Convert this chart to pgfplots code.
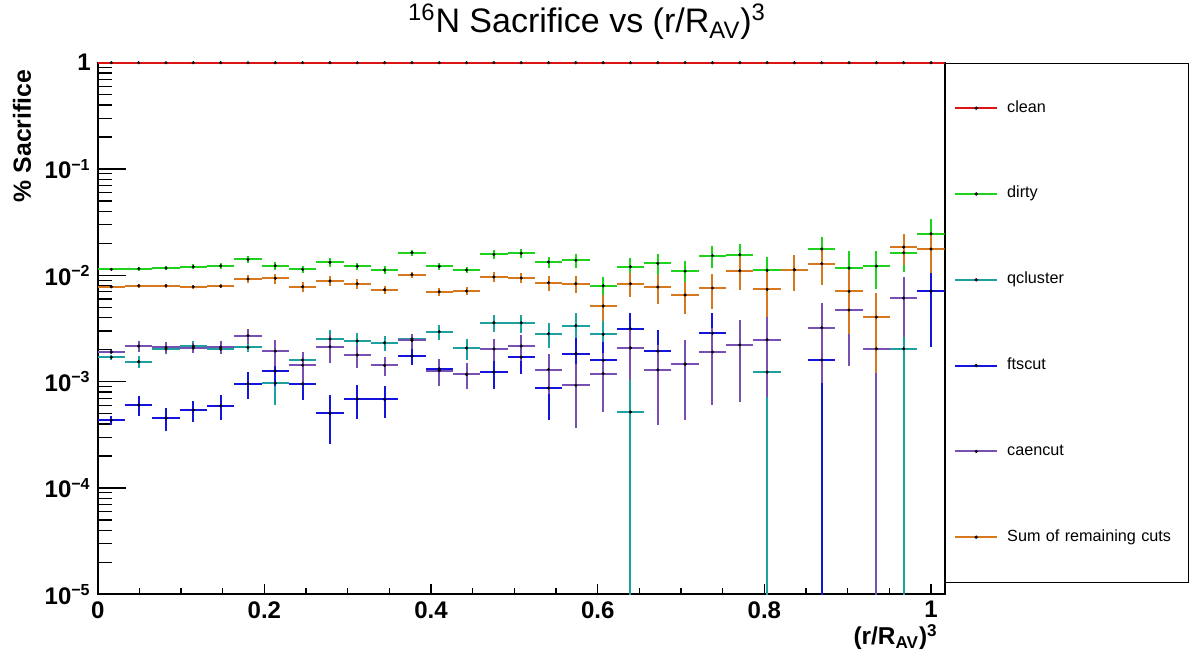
\documentclass[border=0pt]{standalone}
\usepackage{fontspec}
\setmainfont{Liberation Sans}
\usepackage{pgfplots}
\usepackage{pgfplotstable}
\pgfplotsset{compat=1.18}

\definecolor{cClean}{RGB}{220,20,20}
\definecolor{cDirty}{RGB}{30,210,30}
\definecolor{cQclu}{RGB}{30,160,160}
\definecolor{cFts}{RGB}{20,20,220}
\definecolor{cCaen}{RGB}{120,80,180}
\definecolor{cSum}{RGB}{215,120,30}

% bins of width 1/30.5, errors are relative (plus / minus)
\pgfplotstableread{
x y ep em
0.016393 1 0.001 0.001
0.049180 1 0.001 0.001
0.081967 1 0.001 0.001
0.114754 1 0.001 0.001
0.147541 1 0.001 0.001
0.180328 1 0.001 0.001
0.213115 1 0.001 0.001
0.245902 1 0.001 0.001
0.278689 1 0.001 0.001
0.311475 1 0.001 0.001
0.344262 1 0.001 0.001
0.377049 1 0.001 0.001
0.409836 1 0.001 0.001
0.442623 1 0.001 0.001
0.475410 1 0.001 0.001
0.508197 1 0.001 0.001
0.540984 1 0.001 0.001
0.573770 1 0.001 0.001
0.606557 1 0.001 0.001
0.639344 1 0.001 0.001
0.672131 1 0.001 0.001
0.704918 1 0.001 0.001
0.737705 1 0.001 0.001
0.770492 1 0.001 0.001
0.803279 1 0.001 0.001
0.836066 1 0.001 0.001
0.868852 1 0.001 0.001
0.901639 1 0.001 0.001
0.934426 1 0.001 0.001
0.967213 1 0.001 0.001
1.000000 1 0.001 0.001
}\clean

\pgfplotstableread{
x y ep em
0.016393 0.01138 0.02 0.02
0.049180 0.01153 0.04 0.04
0.081967 0.01170 0.05 0.05
0.114754 0.01205 0.05 0.05
0.147541 0.01230 0.06 0.06
0.180328 0.01410 0.07 0.07
0.213115 0.01230 0.08 0.08
0.245902 0.01138 0.07 0.07
0.278689 0.01325 0.10 0.10
0.311475 0.01220 0.08 0.08
0.344262 0.01122 0.09 0.09
0.377049 0.01632 0.06 0.06
0.409836 0.01214 0.08 0.08
0.442623 0.01122 0.07 0.07
0.475410 0.01575 0.10 0.10
0.508197 0.01610 0.09 0.09
0.540984 0.01334 0.12 0.12
0.573770 0.01384 0.15 0.15
0.606557 0.00798 0.20 0.20
0.639344 0.01205 0.20 0.20
0.672131 0.01297 0.22 0.22
0.704918 0.01097 0.24 0.24
0.737705 0.01528 0.23 0.23
0.770492 0.01563 0.26 0.26
0.803279 0.01114 0.33 0.33
0.836066 0.01130 0.37 0.37
0.868852 0.01767 0.29 0.29
0.901639 0.01172 0.45 0.45
0.934426 0.01222 0.39 0.39
0.967213 0.01632 0.34 0.34
1.000000 0.02460 0.39 0.39
}\dirty

\pgfplotstableread{
x y ep em
0.016393 0.00169 0.045 0.045
0.049180 0.00154 0.13 0.13
0.081967 0.00203 0.11 0.11
0.114754 0.00216 0.11 0.11
0.147541 0.00202 0.09 0.09
0.180328 0.00210 0.10 0.10
0.213115 0.00097 0.38 0.38
0.245902 0.00160 0.15 0.15
0.278689 0.00252 0.22 0.22
0.311475 0.00241 0.18 0.18
0.344262 0.00232 0.16 0.16
0.377049 0.00252 0.07 0.07
0.409836 0.00295 0.16 0.16
0.442623 0.00207 0.22 0.22
0.475410 0.00358 0.18 0.18
0.508197 0.00358 0.19 0.19
0.540984 0.00282 0.27 0.27
0.573770 0.00336 0.31 0.31
0.606557 0.00279 0.35 0.35
0.639344 0.000518 1.0 0.999
0.803279 0.00123 1.0 0.999
0.967213 0.00204 1.0 0.999
}\qcluster

\pgfplotstableread{
x y ep em
0.016393 0.000432 0.10 0.10
0.049180 0.000603 0.22 0.22
0.081967 0.000452 0.24 0.24
0.114754 0.000540 0.22 0.22
0.147541 0.000593 0.26 0.26
0.180328 0.000955 0.28 0.28
0.213115 0.00126 0.27 0.27
0.245902 0.000955 0.30 0.30
0.278689 0.000503 0.49 0.49
0.311475 0.000686 0.35 0.35
0.344262 0.000680 0.33 0.33
0.377049 0.00174 0.18 0.18
0.409836 0.00132 0.21 0.21
0.442623 0.00117 0.27 0.27
0.475410 0.00123 0.30 0.30
0.508197 0.00170 0.30 0.30
0.540984 0.00087 0.50 0.50
0.573770 0.00183 0.40 0.40
0.606557 0.00159 0.50 0.50
0.639344 0.00315 0.40 0.40
0.672131 0.00194 0.57 0.57
0.704918 0.00146 0.70 0.70
0.737705 0.00285 0.56 0.56
0.868852 0.00160 2.4 0.999
1.000000 0.00707 0.70 0.70
}\ftscut

\pgfplotstableread{
x y ep em
0.016393 0.00190 0.04 0.04
0.049180 0.00216 0.12 0.12
0.081967 0.00211 0.11 0.11
0.114754 0.00207 0.11 0.11
0.147541 0.00211 0.14 0.14
0.180328 0.00270 0.17 0.17
0.213115 0.00194 0.27 0.27
0.245902 0.00143 0.33 0.33
0.278689 0.00213 0.30 0.30
0.311475 0.00178 0.25 0.25
0.344262 0.00142 0.21 0.21
0.377049 0.00244 0.16 0.16
0.409836 0.00127 0.28 0.28
0.442623 0.00117 0.27 0.27
0.475410 0.00203 0.23 0.23
0.508197 0.00216 0.27 0.27
0.540984 0.00130 0.41 0.41
0.573770 0.000923 0.60 0.60
0.606557 0.00119 0.56 0.56
0.639344 0.00208 0.50 0.50
0.672131 0.00129 0.70 0.70
0.704918 0.00146 0.70 0.70
0.737705 0.00190 0.68 0.68
0.770492 0.00221 0.71 0.71
0.803279 0.00248 0.71 0.71
0.868852 0.00321 0.70 0.70
0.901639 0.00472 0.70 0.70
0.934426 0.00204 1.0 0.999
0.967213 0.00611 0.57 0.57
}\caencut

\pgfplotstableread{
x y ep em
0.016393 0.00781 0.02 0.02
0.049180 0.00798 0.045 0.045
0.081967 0.00798 0.045 0.045
0.114754 0.00781 0.045 0.045
0.147541 0.00790 0.045 0.045
0.180328 0.00923 0.09 0.09
0.213115 0.00937 0.11 0.11
0.245902 0.00781 0.11 0.11
0.278689 0.00884 0.11 0.11
0.311475 0.00834 0.11 0.11
0.344262 0.00732 0.09 0.09
0.377049 0.01014 0.07 0.07
0.409836 0.00701 0.09 0.09
0.442623 0.00711 0.09 0.09
0.475410 0.00964 0.11 0.11
0.508197 0.00944 0.11 0.11
0.540984 0.00851 0.16 0.16
0.573770 0.00834 0.18 0.18
0.606557 0.00514 0.27 0.27
0.639344 0.00834 0.25 0.25
0.672131 0.00776 0.30 0.30
0.704918 0.00653 0.34 0.34
0.737705 0.00760 0.36 0.36
0.770492 0.01104 0.34 0.34
0.803279 0.00738 0.45 0.45
0.836066 0.01130 0.37 0.37
0.868852 0.01286 0.37 0.37
0.901639 0.00707 0.60 0.60
0.934426 0.00405 0.70 0.70
0.967213 0.01845 0.32 0.32
1.000000 0.01767 0.40 0.40
}\sumcuts

\pgfplotsset{
  rootleg/.style={legend image code/.code={
      \draw[line width=1pt,#1] (0pt,0pt) -- (21pt,0pt);
      \fill[black] (10.5pt,0pt) circle (0.55pt);}},
  hist/.style={only marks, mark=*, mark size=0.55pt,
      mark options={fill=black, draw=none}, rootleg=#1,
      error bars/.cd, x dir=both, x fixed=0.016393,
      y dir=both, y explicit relative, error mark=none,
      error bar style={line width=1pt, #1}},
}

\begin{document}
\begin{tikzpicture}
\path[use as bounding box] (-48.85pt,-31.35pt) rectangle (548.65pt,297.15pt);
\begin{axis}[
    at={(0pt,0pt)}, anchor=south west,
    scale only axis, width=423.5pt, height=265.8pt,
    xmin=0, xmax=1.01639,
    ymode=log, ymin=1e-5, ymax=1,
    axis line style={line width=1pt},
    tick align=inside, xtick pos=left, ytick pos=left,
    every tick/.style={black, line width=0.6pt},
    x tick style={/pgfplots/major tick length=5pt, /pgfplots/minor tick length=3.3pt},
    y tick style={/pgfplots/major tick length=14pt, /pgfplots/minor tick length=7pt},
    xtick={0,0.2,0.4,0.6,0.8,1},
    xticklabels={0,0.2,0.4,0.6,0.8,1},
    minor x tick num=3,
    ytick={1e-5,1e-4,1e-3,1e-2,1e-1,1},
    yticklabels={10\textsuperscript{−5},10\textsuperscript{−4},10\textsuperscript{−3},10\textsuperscript{−2},10\textsuperscript{−1},1},
    tick label style={font=\bfseries\fontsize{12}{12}\selectfont},
    title={\textsuperscript{16}N Sacrifice vs (r/R\textsubscript{AV})\textsuperscript{3}},
    title style={at={(axis description cs:0.5777,1)}, anchor=base, yshift=8.85pt,
        font=\fontsize{17}{17}\selectfont},
    xlabel={(r/R\textsubscript{AV})\textsuperscript{3}},
    xlabel style={at={(axis description cs:1,0)}, anchor=base east, yshift=-25.35pt,
        font=\bfseries\fontsize{12.2}{12.2}\selectfont},
    ylabel={\% Sacrifice},
    ylabel style={at={(axis description cs:-0.0788,1)}, anchor=base east,
        font=\bfseries\fontsize{12.4}{12.4}\selectfont},
    legend cell align=left,
    legend style={at={(axis description cs:1,1)}, anchor=north west,
        draw=black, line width=0.5pt, fill=white,
        inner xsep=4.5pt, inner ysep=18.5pt, row sep=34.9pt, column sep=4.5pt,
        font=\fontsize{8.1}{9}\selectfont,
        nodes={inner sep=0pt, text height=6pt, text depth=2pt},
        /tikz/every even column/.append style={text width=86pt}},
]
\addplot[hist=cClean] table[x=x, y=y, y error plus=ep, y error minus=em] {\clean};
\addlegendentry{clean}
\addplot[hist=cDirty] table[x=x, y=y, y error plus=ep, y error minus=em] {\dirty};
\addlegendentry{dirty}
\addplot[hist=cQclu] table[x=x, y=y, y error plus=ep, y error minus=em] {\qcluster};
\addlegendentry{qcluster}
\addplot[hist=cFts] table[x=x, y=y, y error plus=ep, y error minus=em] {\ftscut};
\addlegendentry{ftscut}
\addplot[hist=cCaen] table[x=x, y=y, y error plus=ep, y error minus=em] {\caencut};
\addlegendentry{caencut}
\addplot[hist=cSum] table[x=x, y=y, y error plus=ep, y error minus=em] {\sumcuts};
\addlegendentry{Sum of remaining cuts}
\end{axis}
\end{tikzpicture}
\end{document}
